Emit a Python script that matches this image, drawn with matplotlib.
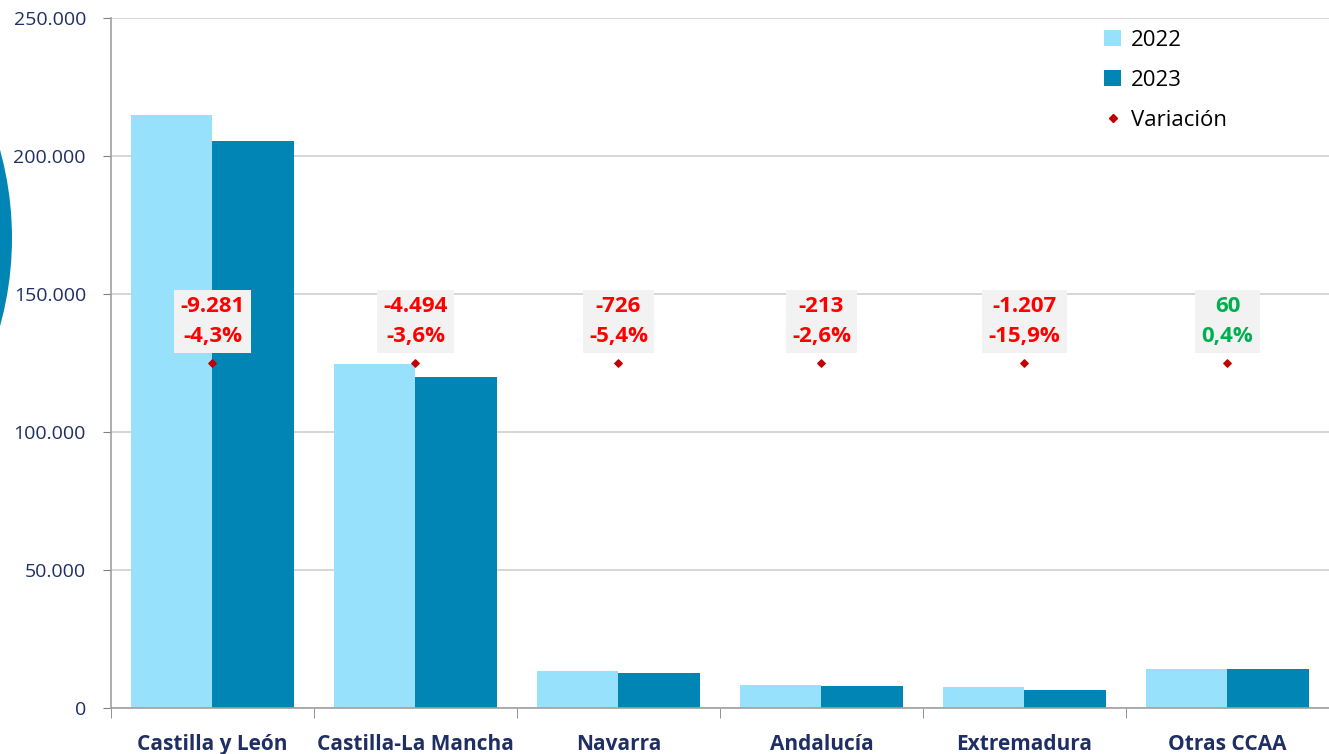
import matplotlib.pyplot as plt
import numpy as np
from matplotlib.patches import Patch, Ellipse
from matplotlib.lines import Line2D
from matplotlib.ticker import FuncFormatter, FixedLocator

plt.rcParams['font.family'] = ['Open Sans', 'DejaVu Sans']

# datos
regiones = ['Castilla y León', 'Castilla-La Mancha', 'Navarra', 'Andalucía', 'Extremadura', 'Otras CCAA']
v2022 = [214900, 124600, 13444, 8192, 7591, 14100]
v2023 = [205619, 120106, 12718, 7979, 6384, 14160]
var_abs = ['-9.281', '-4.494', '-726', '-213', '-1.207', '60']
var_pct = ['-4,3%', '-3,6%', '-5,4%', '-2,6%', '-15,9%', '0,4%']
var_pos = [125000] * 6

c22 = '#97E1FD'
c23 = '#0085B5'
navy = '#1F2F63'

fig = plt.figure(figsize=(13.29, 7.54), dpi=100)
ax = fig.add_axes([0.0835, 0.061, 0.9165, 0.915])

# arco decorativo a la izquierda
R = 330
arc = Ellipse(((12 - R) / 1329, 1 - 238 / 754), 2 * R / 1329, 2 * R / 754,
              transform=fig.transFigure, facecolor=c23, edgecolor='none', zorder=0)
fig.patches.append(arc)

x = np.arange(len(regiones))
w = 0.4
ax.bar(x - w / 2, v2022, w, color=c22, zorder=2)
ax.bar(x + w / 2, v2023, w, color=c23, zorder=2)
ax.scatter(x, var_pos, marker='D', s=14, color='#C00000', zorder=4)

for i in range(len(regiones)):
    col = '#00B050' if not var_abs[i].startswith('-') else '#FF0000'
    ax.annotate(f'{var_abs[i]}\n{var_pct[i]}', (x[i], var_pos[i]), xytext=(0, 11.5),
                textcoords='offset points', ha='center', va='bottom',
                fontsize=16, fontweight='bold', color=col, linespacing=1.55,
                bbox=dict(boxstyle='square,pad=0.28', fc='#F2F2F2', ec='none'), zorder=5)

ax.set_xlim(-0.5, len(regiones) - 0.5)
ax.set_ylim(0, 250000)
ax.set_yticks(np.arange(0, 250001, 50000))
ax.yaxis.set_major_formatter(FuncFormatter(lambda v, p: f'{int(v):,}'.replace(',', '.')))
ax.tick_params(axis='y', labelsize=14, colors='#808080', labelcolor=navy, length=6,
               direction='out', pad=12)

ax.set_xticks(x)
ax.set_xticklabels(regiones, fontsize=15, fontweight='bold', color=navy)
ax.tick_params(axis='x', which='major', length=0, pad=19)
ax.xaxis.set_minor_locator(FixedLocator(np.arange(-0.5, len(regiones), 1)))
ax.tick_params(axis='x', which='minor', length=7, color='#808080')

ax.grid(True, axis='y', color='#D0D0D0', linewidth=1.2, zorder=0)
ax.set_axisbelow(True)
for s in ['top', 'right']:
    ax.spines[s].set_visible(False)
for s in ['left', 'bottom']:
    ax.spines[s].set_color('#A0A0A0')
    ax.spines[s].set_linewidth(1.2)

handles = [Patch(facecolor=c22, label='2022'),
           Patch(facecolor=c23, label='2023'),
           Line2D([], [], marker='D', linestyle='none', markersize=4, color='#C00000', label='Variación')]
ax.legend(handles=handles, loc='upper left', bbox_to_anchor=(0.799, 1.012), frameon=False,
          fontsize=16, handlelength=0.75, handleheight=0.75, handletextpad=0.45, labelspacing=0.85)

fig.savefig('out.png', dpi=100)
